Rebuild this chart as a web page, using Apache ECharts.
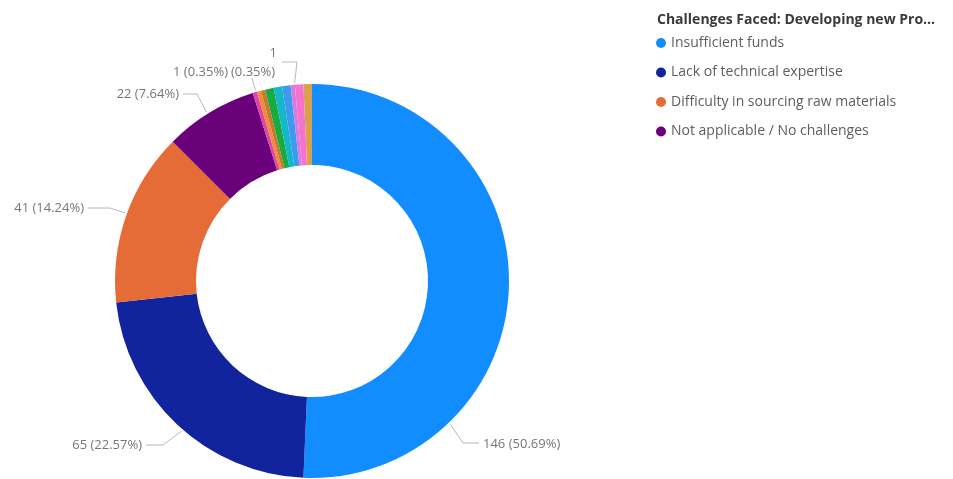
<!DOCTYPE html>
<html>
<head>
<meta charset="utf-8">
<script src="https://cdn.jsdelivr.net/npm/echarts@6/dist/echarts.min.js"></script>
<style>
  html, body { margin: 0; padding: 0; background: #ffffff; }
  #chart { width: 953px; height: 479px; }
</style>
</head>
<body>
<div id="chart"></div>
<script>
// Responses: challenges faced when developing new products
const categories = [
  'Insufficient funds',
  'Lack of technical expertise',
  'Difficulty in sourcing raw materials',
  'Not applicable / No challenges',
  'Limited market access',
  'High production costs',
  'Regulatory hurdles',
  'Lack of skilled labour',
  'Poor infrastructure',
  'High competition',
  'Limited access to credit',
  'Inadequate equipment',
  'Other'
];
const counts = [146, 65, 41, 22, 1, 1, 1, 2, 2, 2, 1, 2, 2];
const sliceColors = [
  '#118DFF', '#12239E', '#E66C37', '#6B007B',
  '#E044A7', '#F08A3C', '#C9782E', '#1AAB40', '#15B8C9',
  '#3C9BF0', '#D77BE0', '#F472D0', '#D9A050'
];
const legendItems = categories.slice(0, 4);

// label text per slice (null = no label)
const labelFormats = [
  '{c} ({d}%)', '{c} ({d}%)', '{c} ({d}%)', '{c} ({d}%)',
  '{c} ({d}%)', '({d}%)', null, null, null, null, '{c}', null, null
];

// donut geometry
const CX = 312, CY = 281, R_IN = 116, R_OUT = 197;

// label placement: text anchor, leader start angle (deg, clockwise from 12 o'clock)
// and the remaining leader points
const labelSpots = {
  0: { x: 483, y: 444, align: 'left', angle: 136, line: [[463, 443], [479, 443]] },
  1: { x: 142, y: 445, align: 'right', angle: 221, line: [[163, 445], [146, 445]] },
  2: { x: 84, y: 208, align: 'right', angle: 290, line: [[110, 208], [88, 208]] },
  3: { x: 179, y: 94, align: 'right', angle: 328, line: [[197, 94], [183, 94]] },
  4: { x: 228, y: 72, align: 'right', angle: 343.5, line: [[252, 78]] },
  5: { x: 231, y: 72, align: 'left' },
  10: { x: 277, y: 53, align: 'right', angle: 355, line: [[297, 62], [282, 62]] }
};

function arcPoint(angleDeg, r) {
  const a = angleDeg * Math.PI / 180;
  return [CX + r * Math.sin(a), CY - r * Math.cos(a)];
}

const seriesData = categories.map((name, i) => {
  const item = { name: name, value: counts[i], itemStyle: { color: sliceColors[i] } };
  if (labelFormats[i]) {
    item.label = { show: true, formatter: labelFormats[i] };
    item.labelLine = { show: !!(labelSpots[i] && labelSpots[i].line) };
  } else {
    item.label = { show: false };
    item.labelLine = { show: false };
  }
  return item;
});

const chart = echarts.init(document.getElementById('chart'), null, { renderer: 'canvas' });
chart.setOption({
  backgroundColor: '#ffffff',
  animation: false,
  title: {
    text: 'Challenges Faced: Developing new Pro...',
    left: 652,
    top: 8,
    textStyle: {
      fontFamily: 'Open Sans, Noto Sans, sans-serif',
      fontSize: 14,
      fontWeight: 'bold',
      color: '#3b3a39'
    }
  },
  legend: {
    data: legendItems,
    orient: 'vertical',
    left: 651,
    top: 31,
    icon: 'circle',
    itemWidth: 10,
    itemHeight: 10,
    itemGap: 15.5,
    selectedMode: false,
    textStyle: {
      fontFamily: 'Open Sans, Noto Sans, sans-serif',
      fontSize: 14,
      color: '#605e5c',
      padding: [0, 0, 0, 0]
    }
  },
  series: [{
    type: 'pie',
    center: [CX, CY],
    radius: [R_IN, R_OUT],
    startAngle: 90,
    clockwise: true,
    avoidLabelOverlap: false,
    data: seriesData,
    label: {
      position: 'outside',
      fontFamily: 'Open Sans, Noto Sans, sans-serif',
      fontSize: 13,
      color: '#777777'
    },
    labelLine: {
      length: 10,
      length2: 14,
      lineStyle: { color: '#b8b8b8', width: 1 }
    },
    labelLayout: function (params) {
      const s = labelSpots[params.dataIndex];
      if (!s) return {};
      const out = { x: s.x, y: s.y, align: s.align, verticalAlign: 'middle' };
      if (s.line) {
        out.labelLinePoints = [arcPoint(s.angle, R_OUT + 2)].concat(s.line);
      }
      return out;
    },
    emphasis: { disabled: true }
  }]
});
</script>
</body>
</html>
